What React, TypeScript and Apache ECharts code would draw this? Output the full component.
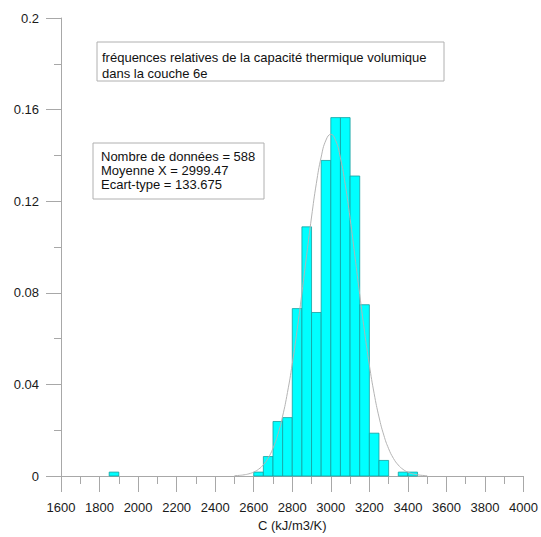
import React, { useEffect, useRef } from "react";
import * as echarts from "echarts";

// Histogram bins (left edge, kJ/m3/K), bin width 50
const binLefts = [1850, 2600, 2650, 2700, 2750, 2800, 2850, 2900, 2950, 3000, 3050, 3100, 3150, 3200, 3250, 3350, 3400];
const binWidth = 50;
// Relative frequencies
const relFreq = [0.0017, 0.0017, 0.0085, 0.0238, 0.0255, 0.0731, 0.1088, 0.0714, 0.1378, 0.1565, 0.1565, 0.131, 0.0748, 0.0187, 0.0068, 0.0017, 0.0017];

// Fitted normal curve (read points)
const curveX = [2500, 2525, 2550, 2575, 2600, 2625, 2650, 2675, 2700, 2725, 2750, 2775, 2800, 2825, 2850, 2875, 2900, 2925, 2950, 2975, 3000, 3025, 3050, 3075, 3100, 3125, 3150, 3175, 3200, 3225, 3250, 3275, 3300, 3325, 3350, 3375, 3400, 3425, 3450, 3475, 3500];
const curveY = [0.00014, 0.00027, 0.00052, 0.00096, 0.00172, 0.00295, 0.00489, 0.00784, 0.01213, 0.01813, 0.02616, 0.03643, 0.04901, 0.06365, 0.07985, 0.09671, 0.1131, 0.1278, 0.1393, 0.1467, 0.1492, 0.1465, 0.1389, 0.1272, 0.1125, 0.096, 0.0792, 0.063, 0.04843, 0.03594, 0.02577, 0.01783, 0.01192, 0.00769, 0.00479, 0.00288, 0.00168, 0.00094, 0.00051, 0.00027, 0.00013];

const titleLines = ["fréquences relatives de la capacité thermique volumique", "dans la couche 6e"];
const statLines = ["Nombre de données = 588", "Moyenne X = 2999.47", "Ecart-type = 133.675"];
const xAxisName = "C (kJ/m3/K)";

const FONT = "'Liberation Sans', Arial, sans-serif";

export default function App() {
  const ref = useRef<HTMLDivElement>(null);
  useEffect(() => {
    if (!ref.current) return;
    const chart = echarts.init(ref.current, undefined, { renderer: "svg" });
    const barData = binLefts.map((l, i) => [l, l + binWidth, relFreq[i]]);
    const curveData = curveX.map((x, i) => [x, curveY[i]]);
    const axisColor = "#a8a8a8";
    chart.setOption({
      animation: false,
      backgroundColor: "#ffffff",
      textStyle: { fontFamily: FONT },
      grid: { left: 61, right: 15, top: 18, bottom: 56, containLabel: false },
      xAxis: {
        type: "value",
        min: 1600,
        max: 4000,
        interval: 200,
        name: xAxisName,
        nameLocation: "middle",
        nameGap: 43,
        nameTextStyle: { color: "#1a1a1a", fontSize: 13, fontFamily: FONT },
        axisLine: { show: true, lineStyle: { color: axisColor, width: 1 } },
        axisTick: { show: true, length: 16, lineStyle: { color: axisColor } },
        minorTick: { show: true, splitNumber: 2, length: 8, lineStyle: { color: axisColor } },
        splitLine: { show: false },
        axisLabel: { color: "#1a1a1a", fontSize: 13, margin: 25, fontFamily: FONT, formatter: (v: number) => String(v) },
      },
      yAxis: {
        type: "value",
        min: 0,
        max: 0.2,
        interval: 0.04,
        axisLine: { show: true, lineStyle: { color: axisColor, width: 1 } },
        axisTick: { show: true, length: 15, lineStyle: { color: axisColor } },
        minorTick: { show: true, splitNumber: 2, length: 7, lineStyle: { color: axisColor } },
        splitLine: { show: false },
        axisLabel: { color: "#1a1a1a", fontSize: 13, margin: 22, fontFamily: FONT, formatter: (v: number) => String(Math.round(v * 100) / 100) },
      },
      series: [
        {
          type: "custom",
          data: barData,
          encode: { x: [0, 1], y: 2 },
          renderItem: (params: any, api: any) => {
            const p0 = api.coord([api.value(0), api.value(2)]);
            const p1 = api.coord([api.value(1), 0]);
            return {
              type: "rect",
              shape: { x: p0[0], y: p0[1], width: p1[0] - p0[0], height: p1[1] - p0[1] },
              style: { fill: "#00ffff", stroke: "#14a0a0", lineWidth: 0.8 },
            };
          },
          z: 2,
        },
        {
          type: "line",
          data: curveData,
          smooth: true,
          showSymbol: false,
          lineStyle: { color: "#b4b4b4", width: 1 },
          z: 3,
        },
      ],
      graphic: [
        {
          type: "rect",
          shape: { x: 97, y: 42, width: 347, height: 39 },
          style: { fill: "#ffffff", stroke: "#b0b0b0", lineWidth: 1 },
          z: 10,
        },
        {
          type: "text",
          x: 102,
          y: 49,
          style: { text: titleLines.join("\n"), fill: "#111", font: `13px ${FONT}`, lineHeight: 16, verticalAlign: "top" },
          z: 11,
        },
        {
          type: "rect",
          shape: { x: 93, y: 143, width: 171, height: 56 },
          style: { fill: "#ffffff", stroke: "#b0b0b0", lineWidth: 1 },
          z: 10,
        },
        {
          type: "text",
          x: 101,
          y: 149,
          style: { text: statLines.join("\n"), fill: "#111", font: `13px ${FONT}`, lineHeight: 14, verticalAlign: "top" },
          z: 11,
        },
      ],
    });
    return () => chart.dispose();
  }, []);
  return <div ref={ref} style={{ position: "absolute", left: 0, top: 0, width: 541, height: 537 }} />;
}
